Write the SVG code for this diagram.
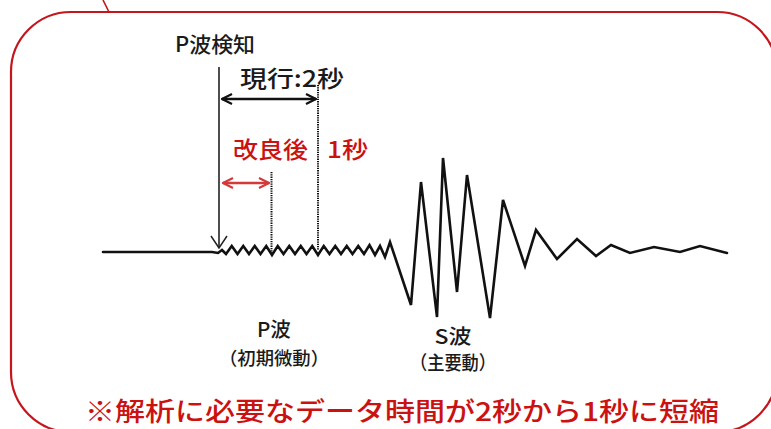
<svg xmlns="http://www.w3.org/2000/svg" width="771" height="429" viewBox="0 0 771 429">
<defs>
<style>
.jp{font-family:"Noto Sans CJK JP","Noto Sans CJK SC",sans-serif;font-weight:500;}
.blk{fill:#1a1a1a;}
.red{fill:#cc1111;}
.wave{fill:none;stroke:#111;stroke-width:2.6;stroke-linejoin:miter;stroke-linecap:round;}
.dot{stroke:#111;stroke-width:2;stroke-dasharray:1.3 1;}
</style>
<marker id="openBlk" viewBox="0 0 12 12" refX="11" refY="6" markerWidth="12" markerHeight="12" markerUnits="userSpaceOnUse" orient="auto-start-reverse">
<path d="M1,1 L11,6 L1,11" fill="none" stroke="#111" stroke-width="2.2"/>
</marker>
<marker id="openRed" viewBox="0 0 12 12" refX="11" refY="6" markerWidth="12" markerHeight="12" markerUnits="userSpaceOnUse" orient="auto-start-reverse">
<path d="M1,1 L11,6 L1,11" fill="none" stroke="#d43a3a" stroke-width="2.2"/>
</marker>
<marker id="openDown" viewBox="0 0 20 14" refX="10" refY="13" markerWidth="20" markerHeight="14" markerUnits="userSpaceOnUse" orient="0">
<path d="M2,1 L10,13 L18,1" fill="none" stroke="#222" stroke-width="1.5"/>
</marker>
</defs>
<rect width="771" height="429" fill="#ffffff"/>

<g id="frame">
<rect x="11" y="12" width="766" height="420" rx="60" ry="60" fill="none" stroke="#c4161c" stroke-width="2.2"/>
<line x1="103" y1="0" x2="109" y2="12" stroke="#c4161c" stroke-width="1.6"/>
</g>

<g id="waveform">
<polyline class="wave" points="103,252 212,252 218,253 222,250 226,254 231.75,246 237.5,254 243.25,246 249,254 254.75,246 260.5,254 266.25,246 272,255 277.75,246 283.5,254 289.25,246 295,254 300.75,246 306.5,254 312.25,246 318,255 323.75,246 329.5,254 335.25,246 341,254 346.75,246 352.5,254 358.25,246 364,254 369.5,245 375,255 380,246 385,257 390,242 411,305 421,182 437,317 443,158 457,292 467,175 490,318 503,200 525,266 536,230 557,259 577,239 596,256 611,245 630,253 654,247 680,252 700,246 727,253"/>
</g>

<g id="p-detect">
<text class="jp blk" x="175" y="52" font-size="21" textLength="80" lengthAdjust="spacingAndGlyphs">P波検知</text>
<line x1="219" y1="67" x2="219" y2="248" stroke="#222" stroke-width="1.6" marker-end="url(#openDown)"/>
</g>

<g id="current">
<text class="jp blk" x="240" y="87" font-size="23" textLength="104" lengthAdjust="spacingAndGlyphs">現行:2秒</text>
<line class="dot" x1="318" y1="85" x2="318" y2="250"/>
</g>

<g id="improved">
<text class="jp red" x="233" y="158" font-size="23" textLength="75" lengthAdjust="spacingAndGlyphs">改良後</text>
<text class="jp red" x="327" y="158" font-size="23" textLength="41" lengthAdjust="spacingAndGlyphs">1秒</text>
<line class="dot" x1="271.5" y1="172" x2="271.5" y2="252"/>
</g>

<g id="connectors">
<line x1="222" y1="99" x2="316" y2="99" stroke="#111" stroke-width="2.6" marker-start="url(#openBlk)" marker-end="url(#openBlk)"/>
<line x1="223" y1="183" x2="269" y2="183" stroke="#d43a3a" stroke-width="2.6" marker-start="url(#openRed)" marker-end="url(#openRed)"/>
</g>

<g id="p-wave-label">
<text class="jp blk" x="274" y="337" font-size="20" text-anchor="middle" textLength="34" lengthAdjust="spacingAndGlyphs">P波</text>
<text class="jp blk" x="274" y="365" font-size="18" text-anchor="middle" textLength="110" lengthAdjust="spacingAndGlyphs">（初期微動）</text>
</g>

<g id="s-wave-label">
<text class="jp blk" x="453" y="344" font-size="20" text-anchor="middle" textLength="37" lengthAdjust="spacingAndGlyphs">S波</text>
<text class="jp blk" x="453" y="370" font-size="19" text-anchor="middle" textLength="86" lengthAdjust="spacingAndGlyphs">（主要動）</text>
</g>

<g id="note">
<text class="jp red" x="85" y="421" font-size="26" font-weight="700" textLength="634" lengthAdjust="spacingAndGlyphs">※解析に必要なデータ時間が2秒から1秒に短縮</text>
</g>
</svg>
